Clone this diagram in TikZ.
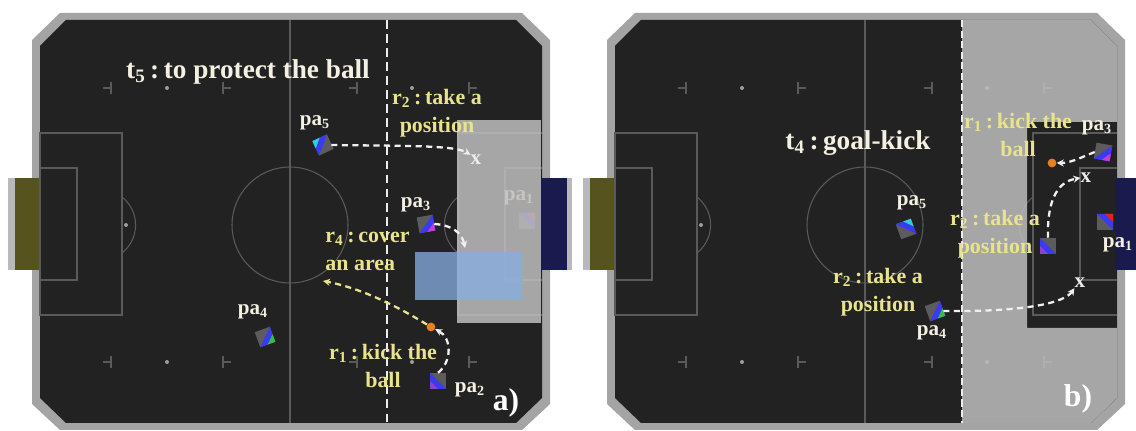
\documentclass[tikz,border=0pt]{standalone}
\usepackage{fontspec}
\setmainfont{Liberation Serif}
\usetikzlibrary{arrows.meta}

\definecolor{pitch}{HTML}{222222}
\definecolor{pitchline}{HTML}{5A5A5A}
\definecolor{rim}{HTML}{A4A4A4}
\definecolor{goalolive}{HTML}{56531F}
\definecolor{goalnavy}{HTML}{1B1A4E}
\definecolor{rolecol}{HTML}{E8E38C}
\definecolor{tagcol}{HTML}{F4F0E2}
\definecolor{ballorange}{HTML}{E8801E}
\definecolor{zoneblue}{HTML}{86ADE2}
\definecolor{zonegrey}{HTML}{BEBEBE}
\definecolor{botgray}{HTML}{5C5C5C}
\definecolor{botblue}{HTML}{3A3AF0}
\definecolor{botmagenta}{HTML}{C83CD8}
\definecolor{botgreen}{HTML}{30C040}
\definecolor{botcyan}{HTML}{30D0D8}
\definecolor{botred}{HTML}{E82020}
\definecolor{botpurple}{HTML}{9040D0}

% robot marker: name, x, y, turn, accent colour
\newcommand{\robot}[5]{%
  \begin{scope}[shift={(#2,#3)}, rotate=#4]
    \fill[botgray] (-8,-8) rectangle (8,8);
    \fill[botblue] (8,-8) -- (8,8) -- (-8,8) -- cycle;
    \fill[#5] (8,0) -- (8,8) -- (0,8) -- cycle;
  \end{scope}
  \node[inner sep=0pt, minimum size=9pt] (#1) at (#2,#3) {};
}

\begin{document}
\begin{tikzpicture}[x=0.02cm, y=-0.02cm,
    marking/.style={draw=pitchline, line width=0.6pt},
    greyzone/.style={fill=zonegrey, fill opacity=0.85},
    move/.style={draw=white!88!gray, dash pattern=on 3.5pt off 2.5pt, line width=1.3pt, -{Stealth[length=4pt,width=4pt]}},
    role/.style={text=rolecol, font=\bfseries\fontsize{12.5}{16}\selectfont, align=center, inner sep=0pt},
    tag/.style={text=tagcol, font=\bfseries\fontsize{12}{13}\selectfont, inner sep=0pt},
    task/.style={text=tagcol, font=\bfseries\fontsize{15.5}{17}\selectfont, inner sep=0pt},
    xtag/.style={text=white!85!gray, font=\bfseries\fontsize{12}{13}\selectfont, inner sep=0pt},
    ball/.style={circle, fill=ballorange, inner sep=0pt, minimum size=5pt},
    panel/.style={text=white, font=\bfseries\fontsize{18}{20}\selectfont, inner sep=0pt}]
\useasboundingbox (0,0) rectangle (1136,431);
\fill[white] (0,0) rectangle (1136,431);
\clip (0,0) rectangle (1136,431);

% the two pitches
\foreach \dx in {0,575}{
  \fill[rim] (\dx+32,40) -- (\dx+60,13) -- (\dx+522,13) -- (\dx+550,40) -- (\dx+550,404) -- (\dx+522,430) -- (\dx+60,430) -- (\dx+32,404) -- cycle;
  \fill[pitch] (\dx+40,46) -- (\dx+66,20) -- (\dx+516,20) -- (\dx+542,46) -- (\dx+542,398) -- (\dx+516,423) -- (\dx+66,423) -- (\dx+40,398) -- cycle;
  % goals
  \fill[gray!55] (\dx+8,178) rectangle (\dx+16,270);
  \fill[goalolive] (\dx+15,178) rectangle (\dx+39,270);
  \fill[goalnavy] (\dx+540,178) rectangle (\dx+567,270);
  \fill[gray!55] (\dx+567,178) rectangle (\dx+572,270);
  % lines
  \draw[marking] (\dx+290,20) -- (\dx+290,423);
  \draw[marking] (\dx+290,225) circle[radius=58];
  \draw[marking] (\dx+40,133) rectangle (\dx+122,315);
  \draw[marking] (\dx+40,168) rectangle (\dx+77,280);
  \draw[marking] (\dx+122,253) arc[start angle=51.8, end angle=-51.8, radius=35.6];
  \draw[marking] (\dx+542,133) -- (\dx+458,133) -- (\dx+458,315) -- (\dx+542,315);
  \draw[marking] (\dx+542,168) -- (\dx+505,168) -- (\dx+505,280) -- (\dx+542,280);
  \draw[marking] (\dx+458,253) arc[start angle=128.2, end angle=231.8, radius=35.6];
  \fill[white!55!pitch] (\dx+126,225) circle[radius=2];
  \foreach \y in {88,362}{
    \foreach \t in {111,357}
      \draw[marking] (\dx+\t,\y-6) -- (\dx+\t,\y+6) (\dx+\t-8,\y) -- (\dx+\t,\y);
    \foreach \t in {223,469}
      \draw[marking] (\dx+\t,\y-6) -- (\dx+\t,\y+6) (\dx+\t,\y) -- (\dx+\t+8,\y);
    \foreach \t in {167,412}
      \fill[white!55!pitch] (\dx+\t,\y) circle[radius=2];
  }
}

% a) to protect the ball
\robot{pa1a}{527}{221}{90}{botred}
\node[tag] (pa1atag) at (519,198) {pa\textsubscript{1}};
\fill[greyzone] (457,120) rectangle (541,323);
\fill[zoneblue, fill opacity=0.76] (415,252) rectangle (522,300);
\draw[white!85!gray, dash pattern=on 5pt off 3pt, line width=1.2pt] (387,20) -- (387,423);

\node[task] (ta) at (248,72) {t\textsubscript{5}\,:\,to protect the ball};
\node[role] (r2a) at (437,113) {r\textsubscript{2}\,:\,take a\\position};
\node[tag] (pa5atag) at (315,123) {pa\textsubscript{5}};
\robot{pa5a}{323}{145}{205}{botcyan}
\node[xtag] (xa) at (476,160) {x};
\node[tag] (pa3atag) at (416,205) {pa\textsubscript{3}};
\robot{pa3a}{426}{224}{10}{botmagenta}
\coordinate (areaa) at (465,248);
\node[role, align=left, anchor=west] (r4a) at (325,251) {r\textsubscript{4}\,:\,cover\\an area};
\coordinate (covera) at (323,281);
\node[tag] (pa4atag) at (253,312) {pa\textsubscript{4}};
\robot{pa4a}{265}{337}{20}{botgreen}
\node[ball] (balla) at (431,327) {};
\node[role] (r1a) at (383,366) {r\textsubscript{1}\,:\,kick the\\ball};
\robot{pa2a}{438}{381}{-90}{botpurple}
\node[tag] (pa2atag) at (470,390) {pa\textsubscript{2}};
\node[panel] (pla) at (506,403) {a)};

\draw[move] (pa5a.east) .. controls (400,146) and (455,145) .. (xa.north west);
\draw[move] (pa3a.east) .. controls (452,225) and (462,233) .. (areaa);
\draw[move, draw=rolecol] (balla) .. controls (395,305) and (360,288) .. (covera);
\draw[move] (pa2a.north) .. controls (452,362) and (452,338) .. (balla);

% b) goal-kick
\begin{scope}
  \clip (615,46) -- (641,20) -- (1091,20) -- (1117,46) -- (1117,398) -- (1091,423) -- (641,423) -- (615,398) -- cycle;
  \fill[greyzone, even odd rule] (962,0) rectangle (1136,431) (1027,122) rectangle (1117,328);
\end{scope}
\fill[goalnavy] (1115,178) rectangle (1136,270);
\draw[white!85!gray, dash pattern=on 4pt off 2pt, line width=1pt] (962,20) -- (962,423);

\node[task] (tb) at (858,143) {t\textsubscript{4}\,:\,goal-kick};
\node[role] (r1b) at (1018,135) {r\textsubscript{1}\,:\,kick the\\ball};
\node[tag] (pa3btag) at (1097,128) {pa\textsubscript{3}};
\robot{pa3b}{1103}{152}{-10}{botmagenta}
\node[ball] (ballb) at (1052,163) {};
\node[xtag] (xb1) at (1086,178) {x};
\node[role] (r2b1) at (995,234) {r\textsubscript{2}\,:\,take a\\position};
\robot{r2bot}{1048}{246}{-90}{botpurple}
\robot{pa1b}{1105}{222}{90}{botred}
\node[tag] (pa1btag) at (1118,245) {pa\textsubscript{1}};
\node[tag] (pa5btag) at (912,203) {pa\textsubscript{5}};
\robot{pa5b}{906}{229}{110}{botcyan}
\node[role] (r2b2) at (878,292) {r\textsubscript{2}\,:\,take a\\position};
\robot{pa4b}{935}{311}{20}{botgreen}
\node[tag] (pa4btag) at (932,333) {pa\textsubscript{4}};
\node[xtag] (xb2) at (1080,283) {x};
\node[panel] (plb) at (1078,399) {b)};

\draw[move] (pa3b.west) .. controls (1080,158) and (1070,163) .. (ballb.east);
\draw[move] (r2bot.north) .. controls (1047,205) and (1055,182) .. (xb1.west);
\draw[move] (pa4b.east) .. controls (1030,312) and (1065,302) .. (xb2.south west);
\end{tikzpicture}
\end{document}
